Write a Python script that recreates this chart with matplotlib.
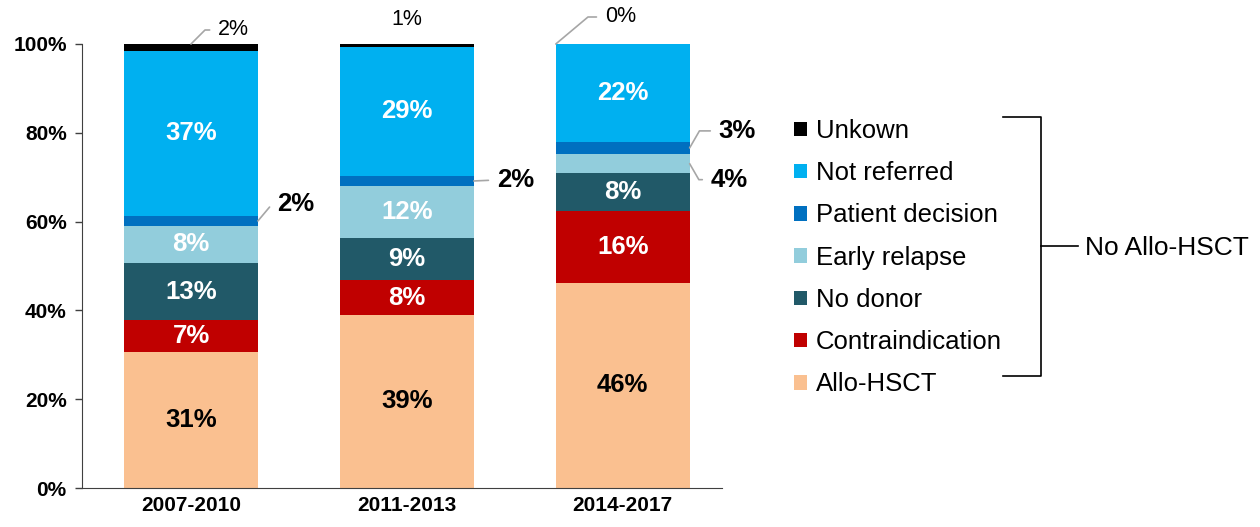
import matplotlib
matplotlib.use("Agg")
import matplotlib.pyplot as plt
from matplotlib.lines import Line2D
from matplotlib.patches import Patch
import numpy as np

plt.rcParams['font.family'] = ['Liberation Sans', 'DejaVu Sans']

periods = ["2007-2010", "2011-2013", "2014-2017"]
series = ["Allo-HSCT", "Contraindication", "No donor", "Early relapse",
          "Patient decision", "Not referred", "Unkown"]
allo = [30.6, 39.0, 46.2]
contraindication = [7.2, 7.8, 16.3]
no_donor = [12.9, 9.4, 8.4]
early_relapse = [8.3, 11.8, 4.3]
patient_decision = [2.3, 2.3, 2.8]
not_referred = [37.1, 29.1, 22.0]
unknown = [1.6, 0.6, 0.0]
yticks = [0, 20, 40, 60, 80, 100]

values = [allo, contraindication, no_donor, early_relapse,
          patient_decision, not_referred, unknown]
colors = ["#FAC090", "#C00000", "#215968", "#92CDDC", "#0070C0", "#00B0F0", "#000000"]
inside_color = ["black", "white", "white", "white", None, "white", None]

fig = plt.figure(figsize=(12.6, 5.27), dpi=100)
ax = fig.add_axes([82/1260, 1-488/527, 640/1260, 444/527])

x = np.arange(len(periods))
w = 0.62
bottom = np.zeros(len(periods))
for vals, col, lab, tc in zip(values, colors, series, inside_color):
    v = np.array(vals)
    ax.bar(x, v, w, bottom=bottom, color=col, label=lab, edgecolor='none')
    if tc is not None:
        for xi, (vi, bi) in enumerate(zip(v, bottom)):
            if vi >= 4.5:
                ax.text(xi, bi + vi/2, f"{vi:.0f}%", ha='center', va='center',
                        color=tc, fontsize=18.5, fontweight='bold')
    bottom = bottom + v

ax.set_xlim(-0.505, 2.46)
ax.set_ylim(0, 100)
ax.set_yticks(yticks)
ax.set_yticklabels([f"{t}%" for t in yticks], fontsize=15, fontweight='bold')
ax.set_xticks(x)
ax.set_xticklabels(periods, fontsize=15, fontweight='bold')
ax.tick_params(axis='x', length=0, pad=6)
ax.tick_params(axis='y', length=5, direction='out', width=1, color='#404040', pad=6)
for s in ['top', 'right']:
    ax.spines[s].set_visible(False)
for s in ['left', 'bottom']:
    ax.spines[s].set_color('#404040')

cum = np.cumsum(np.array(values), axis=0)
starts = cum - np.array(values)
lead = dict(arrowstyle='-', color='#A6A6A6', lw=1.2, shrinkA=4, shrinkB=0, relpos=(0, 0.5))

def callout(xy, off, val, bold, angle=60):
    ax.annotate(f"{val:.0f}%", xy=xy, xytext=off, textcoords='offset pixels',
                ha='left', va='center', fontsize=18.5 if bold else 15.5,
                fontweight='bold' if bold else 'normal', color='black',
                arrowprops=dict(lead, connectionstyle=f'angle,angleA=0,angleB={angle}'))

# Unknown labels
callout((0, 100), (27, 14), unknown[0], False, 45)
ax.annotate(f"{unknown[1]:.0f}%", xy=(1, 100), xytext=(0, 24), textcoords='offset pixels',
            ha='center', va='center', fontsize=15.5)
callout((2 - w/2, 100), (49, 27), unknown[2], False, 40)
# Patient decision labels
pd_mid = starts[4] + np.array(patient_decision)/2
callout((0 + w/2, pd_mid[0]), (19, 17), patient_decision[0], True, 50)
ax.annotate(f"{patient_decision[1]:.0f}%", xy=(1 + w/2, pd_mid[1]), xytext=(23, 1),
            textcoords='offset pixels', ha='left', va='center', fontsize=18.5,
            fontweight='bold', arrowprops=lead)
callout((2 + w/2, pd_mid[2]), (29, 17), patient_decision[2], True, 60)
er_mid = starts[3] + np.array(early_relapse)/2
ax.annotate(f"{early_relapse[2]:.0f}%", xy=(2 + w/2, er_mid[2]), xytext=(21, -16),
            textcoords='offset pixels', ha='left', va='center', fontsize=18.5,
            fontweight='bold',
            arrowprops=dict(lead, connectionstyle='angle,angleA=0,angleB=-60'))

# Legend
handles = [Patch(facecolor=c, edgecolor='none', label=l) for c, l in zip(colors, series)][::-1]
fig.legend(handles=handles, loc='upper left', bbox_to_anchor=(794/1260, 1-119/527),
           frameon=False, fontsize=18.5, handlelength=0.5, handleheight=0.5,
           handletextpad=0.35, labelspacing=0.71, borderaxespad=0, borderpad=0)

# Bracket
def fx(px): return px/1260
def fy(py): return 1 - py/527
lc = 'black'
fig.add_artist(Line2D([fx(1003), fx(1041), fx(1041), fx(1003)],
                      [fy(117), fy(117), fy(376), fy(376)], color=lc, lw=1.2))
fig.add_artist(Line2D([fx(1041), fx(1078)], [fy(246), fy(246)], color=lc, lw=1.2))
fig.text(fx(1085), fy(248), "No Allo-HSCT", ha='left', va='center', fontsize=19)

fig.savefig("out.png", dpi=100)
